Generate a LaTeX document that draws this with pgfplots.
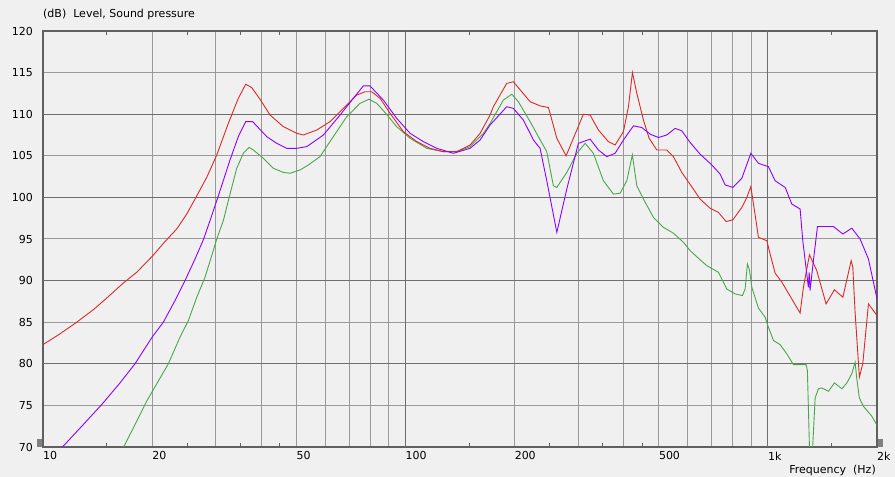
\documentclass[border=0pt]{standalone}
\usepackage{fontspec}
\setmainfont{DejaVu Sans}
\usepackage{pgfplots}
\pgfplotsset{compat=1.18}
\definecolor{bg}{HTML}{F0F0F0}
\definecolor{gridl}{HTML}{999999}
\definecolor{gridd}{HTML}{6E6E6E}
\definecolor{frame}{HTML}{606060}
\definecolor{cred}{HTML}{DC2828}
\definecolor{cpur}{HTML}{8C00FF}
\definecolor{cgrn}{HTML}{48A848}
\begin{document}
\fontsize{11bp}{13bp}\selectfont
\begin{tikzpicture}
\fill[bg] (-43bp,-30bp) rectangle (852bp,447bp);
\path[use as bounding box] (-43bp,-30bp) rectangle (852bp,447bp);
\begin{axis}[
  at={(0,0)}, anchor=south west,
  scale only axis, width=834bp, height=416bp,
  xmode=log, xmin=10, xmax=2000, ymin=70, ymax=120,
  axis background/.style={fill=bg},
  axis line style={draw=frame, line width=1.5bp},
  xtick={10,20,30,40,50,60,70,80,90,100,200,300,400,500,600,700,800,900,1000,2000},
  xticklabels={10,20,,,50,,,,,100,200,,,500,,,,,1k,2k},
  minor xtick={15,25,35,45,150,250,350,450,1500},
  ytick={70,75,...,120},
  extra x ticks={100,1000}, extra x tick labels={},
  extra x tick style={grid=major, major grid style={draw=gridd, line width=1bp}},
  extra y ticks={80,90,100,110}, extra y tick labels={},
  extra y tick style={grid=major, major grid style={draw=gridd, line width=1bp}},
  xmajorgrids=true, ymajorgrids=true, xminorgrids=false,
  major grid style={draw=gridl, line width=1bp},
  major tick length=0pt, minor tick length=4bp,
  minor tick style={draw=frame, line width=1bp},
  tick align=inside,
  /pgf/number format/assume math mode=true,
  tick label style={font=\fontsize{11bp}{13bp}\selectfont, text=black},
  xticklabel style={anchor=north west, inner sep=0pt, yshift=-4.5bp},
  yticklabel style={anchor=east, inner sep=0pt, xshift=-10bp},
  clip=true,
]
\addplot[cgrn, line width=0.9bp] coordinates {
(16.65,69.9)(18.14,73.1)(19.32,75.5)(22.17,80.0)(23.88,83.2)(25.18,85.2)(26.56,88.0)(27.99,90.4)(29.21,93.0)(30.16,95.0)(31.44,97.2)(32.81,100.4)(34.24,103.5)(35.70,105.3)(37.02,106.0)(38.05,105.7)(40.55,104.7)(43.20,103.5)(46.04,103.0)(48.04,102.9)(51.2,103.3)(53.97,103.9)(58.11,104.9)(63.24,107.3)(68.87,109.7)(74.91,111.3)(79.36,111.8)(83.34,111.3)(87.85,110.2)(94.6,108.5)(103.0,107.1)(114.5,105.9)(127.2,105.5)(138.5,105.5)(150.8,106.1)(164.1,107.7)(171.2,108.9)(186.3,111.7)(196.5,112.4)(204.9,111.5)(220.8,109.1)(232.7,107.3)(245.4,105.5)(255.9,101.4)(261.6,101.2)(278.7,103.0)(297.0,105.3)(313.1,106.5)(330.0,105.3)(351.7,102.0)(374.7,100.4)(391.1,100.5)(408.0,102.0)(422.7,105.1)(434.9,101.4)(453.5,99.8)(483.3,97.6)(514.9,96.4)(548.6,95.7)(584.7,94.6)(610.2,93.6)(650.0,92.5)(678.3,91.8)(730.2,91.0)(770.3,89.0)(812.0,88.4)(850.5,88.2)(865.3,89.0)(878.0,92.0)(889.2,91.3)(903.0,89.2)(941.5,86.7)(982.4,85.6)(1003,84.4)(1036,82.8)(1081,82.3)(1127,81.2)(1176,79.9)(1275,79.9)(1285,79.2)(1302,70.0)(1312,66.0)(1330,70.3)(1350,75.9)(1378,77.0)(1408,77.1)(1469,76.7)(1526,77.7)(1600,77.0)(1651,77.7)(1704,78.8)(1740,80.2)(1759,78.2)(1788,75.9)(1834,74.9)(1935,73.7)(1995,72.7)
};
\addplot[cred, line width=0.9bp] coordinates {
(10,82.3)(11.14,83.6)(12.39,85.0)(13.77,86.5)(14.99,87.9)(16.65,89.7)(18.14,91.0)(20.0,92.9)(21.71,94.7)(23.38,96.2)(24.92,98.0)(26.27,99.8)(28.29,102.4)(30.16,105.1)(32.46,108.9)(34.58,111.9)(36.25,113.6)(37.66,113.2)(39.70,111.8)(42.31,109.9)(46.04,108.5)(50.13,107.7)(52.28,107.5)(56.92,108.1)(61.93,109.1)(67.39,110.7)(73.37,112.3)(77.35,112.7)(80.72,112.7)(85.11,111.9)(90.7,110.1)(98.7,107.9)(107.5,106.7)(116.9,105.9)(127.2,105.5)(138.5,105.5)(150.8,106.3)(160.7,107.7)(171.2,109.9)(174.8,110.9)(190.3,113.7)(198.5,113.9)(220.8,111.5)(235.2,111.0)(248.0,110.8)(261.6,107.1)(277.5,105.0)(309.7,110.0)(323.2,109.9)(340.7,108.1)(363.1,106.7)(378.9,106.3)(399.4,107.9)(412.3,110.9)(422.9,115.0)(434.9,112.5)(453.5,109.3)(470.2,107.1)(493.7,105.7)(526.0,105.7)(548.6,104.9)(578.7,103.0)(622.8,101.0)(650.0,99.8)(692.7,98.7)(730.2,98.2)(766.9,97.1)(800.3,97.3)(847.3,98.8)(874.6,100.0)(897.1,101.3)(922.0,97.9)(941.5,95.2)(993.1,94.8)(1014,93.2)(1047,90.9)(1093,89.8)(1227,86.1)(1253,89.2)(1302,93.1)(1364,91.2)(1447,87.2)(1526,88.9)(1610,88.0)(1697,92.4)(1715,91.6)(1740,86.2)(1788,78.4)(1827,80.0)(1894,87.2)(2000,85.8)
};
\addplot[cpur, line width=0.9bp] coordinates {
(11.26,69.9)(12.92,72.7)(14.52,75.1)(16.31,77.7)(17.94,80.0)(20.0,83.2)(21.48,85.0)(23.13,87.6)(24.65,90.0)(26.27,92.6)(27.69,94.9)(28.89,97.2)(30.47,100.2)(32.81,104.5)(34.58,107.3)(36.25,109.1)(37.89,109.1)(41.43,107.3)(44.14,106.5)(47.04,105.9)(50.13,105.9)(53.43,106.1)(59.37,107.5)(66.01,109.9)(71.80,111.9)(76.52,113.4)(79.85,113.4)(86.90,111.7)(94.6,109.5)(103.0,107.7)(112.1,106.7)(122.0,105.9)(135.6,105.3)(150.8,105.9)(160.7,106.9)(171.2,108.7)(190.3,110.9)(198.5,110.7)(211.5,109.3)(225.4,106.9)(235.2,105.9)(245.4,102.0)(261.6,95.8)(278.7,101.0)(300.0,106.5)(323.2,107.0)(340.7,105.7)(359.4,104.9)(378.9,105.3)(399.4,106.9)(425.6,108.6)(448.7,108.4)(473.2,107.6)(498.8,107.2)(526.0,107.5)(554.6,108.3)(578.7,108.0)(610.2,106.6)(650.0,105.2)(700.2,103.9)(738.3,102.8)(762.1,101.5)(800.3,101.2)(847.3,102.3)(897.1,105.3)(941.5,104.1)(1003,103.7)(1047,102.0)(1116,101.2)(1164,99.2)(1227,98.6)(1248,94.8)(1293,89.2)(1300,91.0)(1307,88.8)(1335,92.4)(1370,96.5)(1516,96.5)(1610,95.6)(1704,96.3)(1796,95.0)(1894,92.6)(2000,87.8)
};
\end{axis}
\node[anchor=base west, inner sep=0pt] at (0bp,429.3bp) {(dB)\ \ Level, Sound pressure};
\node[anchor=base east, inner sep=0pt] at (833bp,-26.3bp) {Frequency\ \ (Hz)};
\fill[gray] (-6bp,0bp) rectangle (-1bp,8bp);
\fill[gray] (835bp,0bp) rectangle (840bp,8bp);
\end{tikzpicture}
\end{document}
